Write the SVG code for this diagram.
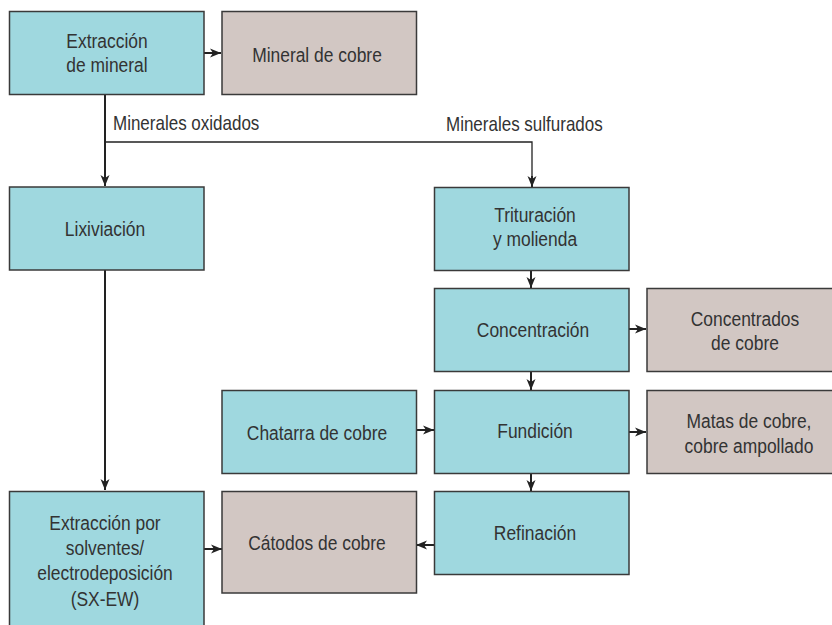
<svg xmlns="http://www.w3.org/2000/svg" width="832" height="625" viewBox="0 0 832 625">
<defs>
<style>
.p{fill:#9fd8df;stroke:#3a3a3a;stroke-width:1.5}
.o{fill:#d2c7c3;stroke:#3a3a3a;stroke-width:1.5}
text{font-family:"Liberation Sans",Arial,sans-serif;font-size:21px;fill:#333;text-anchor:middle}
.lbl{font-size:20px;text-anchor:start}
.c{fill:none;stroke:#222;stroke-width:2}
.thin{fill:none;stroke:#222;stroke-width:1.3}
</style>
<marker id="ah" markerUnits="userSpaceOnUse" markerWidth="12" markerHeight="12" refX="11" refY="6" orient="auto">
<path d="M0,1.5 L11,6 L0,10.5 L3,6 z" fill="#222"/>
</marker>
</defs>
<rect width="832" height="625" fill="#fff"/>
<g id="connectors">
<line class="c" x1="204" y1="53" x2="221" y2="53" marker-end="url(#ah)"/>
<line class="c" x1="105" y1="94" x2="105" y2="186" marker-end="url(#ah)"/>
<polyline class="thin" points="105,142 532,142 532,180"/>
<line class="c" x1="532" y1="176" x2="532" y2="187" marker-end="url(#ah)"/>
<line class="c" x1="105" y1="270" x2="105" y2="490" marker-end="url(#ah)"/>
<line class="c" x1="531" y1="270" x2="531" y2="288" marker-end="url(#ah)"/>
<line class="c" x1="629" y1="329" x2="646" y2="329" marker-end="url(#ah)"/>
<line class="c" x1="531" y1="372" x2="531" y2="390" marker-end="url(#ah)"/>
<line class="c" x1="416" y1="430" x2="434" y2="430" marker-end="url(#ah)"/>
<line class="c" x1="629" y1="432" x2="646" y2="432" marker-end="url(#ah)"/>
<line class="c" x1="531" y1="473" x2="531" y2="491" marker-end="url(#ah)"/>
<line class="c" x1="434" y1="545" x2="416" y2="545" marker-end="url(#ah)"/>
<line class="c" x1="204" y1="549" x2="222" y2="549" marker-end="url(#ah)"/>
<text class="lbl" transform="translate(113,130) scale(0.85,1)">Minerales oxidados</text>
<text class="lbl" transform="translate(446,131) scale(0.85,1)">Minerales sulfurados</text>
</g>
<g id="extraccion">
<rect class="p" x="9.5" y="11.5" width="194.5" height="83"/>
<text transform="translate(107,48) scale(0.83,1)">Extracción</text>
<text transform="translate(107,72) scale(0.83,1)">de mineral</text>
</g>
<g id="mineral">
<rect class="o" x="222" y="11.5" width="194.5" height="83"/>
<text transform="translate(317,62) scale(0.83,1)">Mineral de cobre</text>
</g>
<g id="lixiviacion">
<rect class="p" x="9.5" y="187" width="194.5" height="83"/>
<text transform="translate(105,236) scale(0.83,1)">Lixiviación</text>
</g>
<g id="trituracion">
<rect class="p" x="434.5" y="187.5" width="194.5" height="83"/>
<text transform="translate(535,222) scale(0.83,1)">Trituración</text>
<text transform="translate(535,246) scale(0.83,1)">y molienda</text>
</g>
<g id="concentracion">
<rect class="p" x="434.5" y="288.5" width="194.5" height="83"/>
<text transform="translate(533,337) scale(0.83,1)">Concentración</text>
</g>
<g id="concentrados">
<rect class="o" x="647" y="288.5" width="194.5" height="83"/>
<text transform="translate(745,326) scale(0.83,1)">Concentrados</text>
<text transform="translate(745,350) scale(0.83,1)">de cobre</text>
</g>
<g id="chatarra">
<rect class="p" x="222" y="390.5" width="194.5" height="83"/>
<text transform="translate(317,440) scale(0.83,1)">Chatarra de cobre</text>
</g>
<g id="fundicion">
<rect class="p" x="434.5" y="390.5" width="194.5" height="83"/>
<text transform="translate(535,438) scale(0.83,1)">Fundición</text>
</g>
<g id="matas">
<rect class="o" x="647" y="390.5" width="194.5" height="83"/>
<text transform="translate(749,428) scale(0.83,1)">Matas de cobre,</text>
<text transform="translate(749,453) scale(0.83,1)">cobre ampollado</text>
</g>
<g id="refinacion">
<rect class="p" x="434.5" y="491.5" width="194.5" height="83"/>
<text transform="translate(535,540) scale(0.83,1)">Refinación</text>
</g>
<g id="catodos">
<rect class="o" x="222" y="491.5" width="194.5" height="101.5"/>
<text transform="translate(317,550) scale(0.83,1)">Cátodos de cobre</text>
</g>
<g id="sxew">
<rect class="p" x="9.5" y="491.5" width="194.5" height="140"/>
<text transform="translate(105,530) scale(0.83,1)">Extracción por</text>
<text transform="translate(105,555) scale(0.83,1)">solventes/</text>
<text transform="translate(105,580) scale(0.83,1)">electrodeposición</text>
<text transform="translate(105,606) scale(0.83,1)">(SX-EW)</text>
</g>
</svg>
